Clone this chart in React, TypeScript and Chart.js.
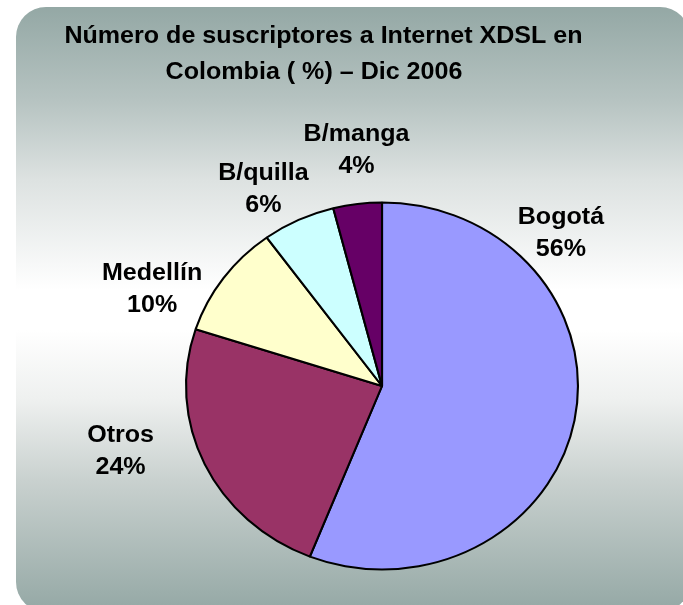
import React, { useEffect, useRef } from "react";
import { Chart, ArcElement, PieController } from "chart.js";

Chart.register(ArcElement, PieController);

// ---- data ----
const categories = ["Bogotá", "Otros", "Medellín", "B/quilla", "B/manga"];
const shares = [56, 24, 10, 6, 4];
const sliceColors = ["#9999FF", "#993366", "#FFFFCC", "#CCFFFF", "#660066"];
const titleLines = ["Número de suscriptores a Internet XDSL en", "Colombia ( %) – Dic 2006"];
// label anchors, in units of the pie radius relative to the pie centre
const labelAnchorX = [0.913, -1.334, -1.173, -0.605, -0.13];
const labelAnchorY = [-0.828, 0.357, -0.523, -1.068, -1.283];

// ---- layout / style ----
const W = 683;
const H = 605;
const PIE_STRETCH = 1.068; // pie is drawn as a slightly wide ellipse
const TEXT_STRETCH = 1.09;
const FONT = 'bold 23px "Liberation Sans", Arial, sans-serif';

function stretchedText(ctx: CanvasRenderingContext2D, text: string, x: number, y: number) {
  ctx.save();
  ctx.translate(x, y);
  ctx.scale(TEXT_STRETCH, 1);
  ctx.fillText(text, 0, 0);
  ctx.restore();
}

const decorPlugin = {
  id: "decor",
  beforeDraw(chart: any) {
    const ctx: CanvasRenderingContext2D = chart.ctx;
    ctx.save();
    const x0 = 16, y0 = 7, x1 = 690, y1 = 612, r = 30;
    const g = ctx.createLinearGradient(0, y0, 0, y1);
    g.addColorStop(0, "#94A8A5");
    g.addColorStop(0.154, "#B6C3C1");
    g.addColorStop(0.286, "#DDE2E1");
    g.addColorStop(0.468, "#FFFFFF");
    g.addColorStop(0.534, "#FFFFFF");
    g.addColorStop(0.65, "#EEF0EF");
    g.addColorStop(0.782, "#C9D1CF");
    g.addColorStop(0.988, "#97AAA7");
    g.addColorStop(1, "#96A9A6");
    ctx.beginPath();
    ctx.moveTo(x0 + r, y0);
    ctx.lineTo(x1 - r, y0);
    ctx.arcTo(x1, y0, x1, y0 + r, r);
    ctx.lineTo(x1, y1 - r);
    ctx.arcTo(x1, y1, x1 - r, y1, r);
    ctx.lineTo(x0 + r, y1);
    ctx.arcTo(x0, y1, x0, y1 - r, r);
    ctx.lineTo(x0, y0 + r);
    ctx.arcTo(x0, y0, x0 + r, y0, r);
    ctx.closePath();
    ctx.fillStyle = g;
    ctx.fill();

    // title
    ctx.font = FONT;
    ctx.fillStyle = "#000";
    ctx.textAlign = "center";
    ctx.textBaseline = "middle";
    stretchedText(ctx, titleLines[0], 323.5, 36.5);
    stretchedText(ctx, titleLines[1], 314, 72.5);
    ctx.restore();
  },
  beforeDatasetsDraw(chart: any) {
    const arc = chart.getDatasetMeta(0).data[0];
    const ctx: CanvasRenderingContext2D = chart.ctx;
    ctx.save();
    ctx.translate(arc.x, arc.y);
    ctx.scale(PIE_STRETCH, 1);
    ctx.translate(-arc.x, -arc.y);
  },
  afterDatasetsDraw(chart: any) {
    const ctx: CanvasRenderingContext2D = chart.ctx;
    ctx.restore();
    const arc = chart.getDatasetMeta(0).data[0];
    const R = arc.outerRadius;
    ctx.save();
    ctx.font = FONT;
    ctx.fillStyle = "#000";
    ctx.textAlign = "center";
    ctx.textBaseline = "middle";
    categories.forEach((c, i) => {
      const cx = arc.x + labelAnchorX[i] * R * PIE_STRETCH;
      const cy = arc.y + labelAnchorY[i] * R;
      stretchedText(ctx, c, cx, cy - 16);
      stretchedText(ctx, shares[i] + "%", cx, cy + 16);
    });
    ctx.restore();
  },
};

export default function App() {
  const ref = useRef<HTMLCanvasElement | null>(null);
  useEffect(() => {
    if (!ref.current) return;
    const chart = new Chart(ref.current, {
      type: "pie",
      data: {
        labels: categories,
        datasets: [
          {
            data: shares,
            backgroundColor: sliceColors,
            borderColor: "#000000",
            borderWidth: 2,
          },
        ],
      },
      options: {
        responsive: false,
        animation: false,
        events: [],
        layout: { padding: { top: 201.5, bottom: 34.5, left: 150, right: 69 } },
        plugins: { legend: { display: false }, tooltip: { enabled: false } },
      },
      plugins: [decorPlugin],
    });
    return () => chart.destroy();
  }, []);
  return (
    <div style={{ position: "absolute", left: 0, top: 0, width: W, height: H }}>
      <canvas ref={ref} width={W} height={H} style={{ width: W, height: H, display: "block" }} />
    </div>
  );
}
